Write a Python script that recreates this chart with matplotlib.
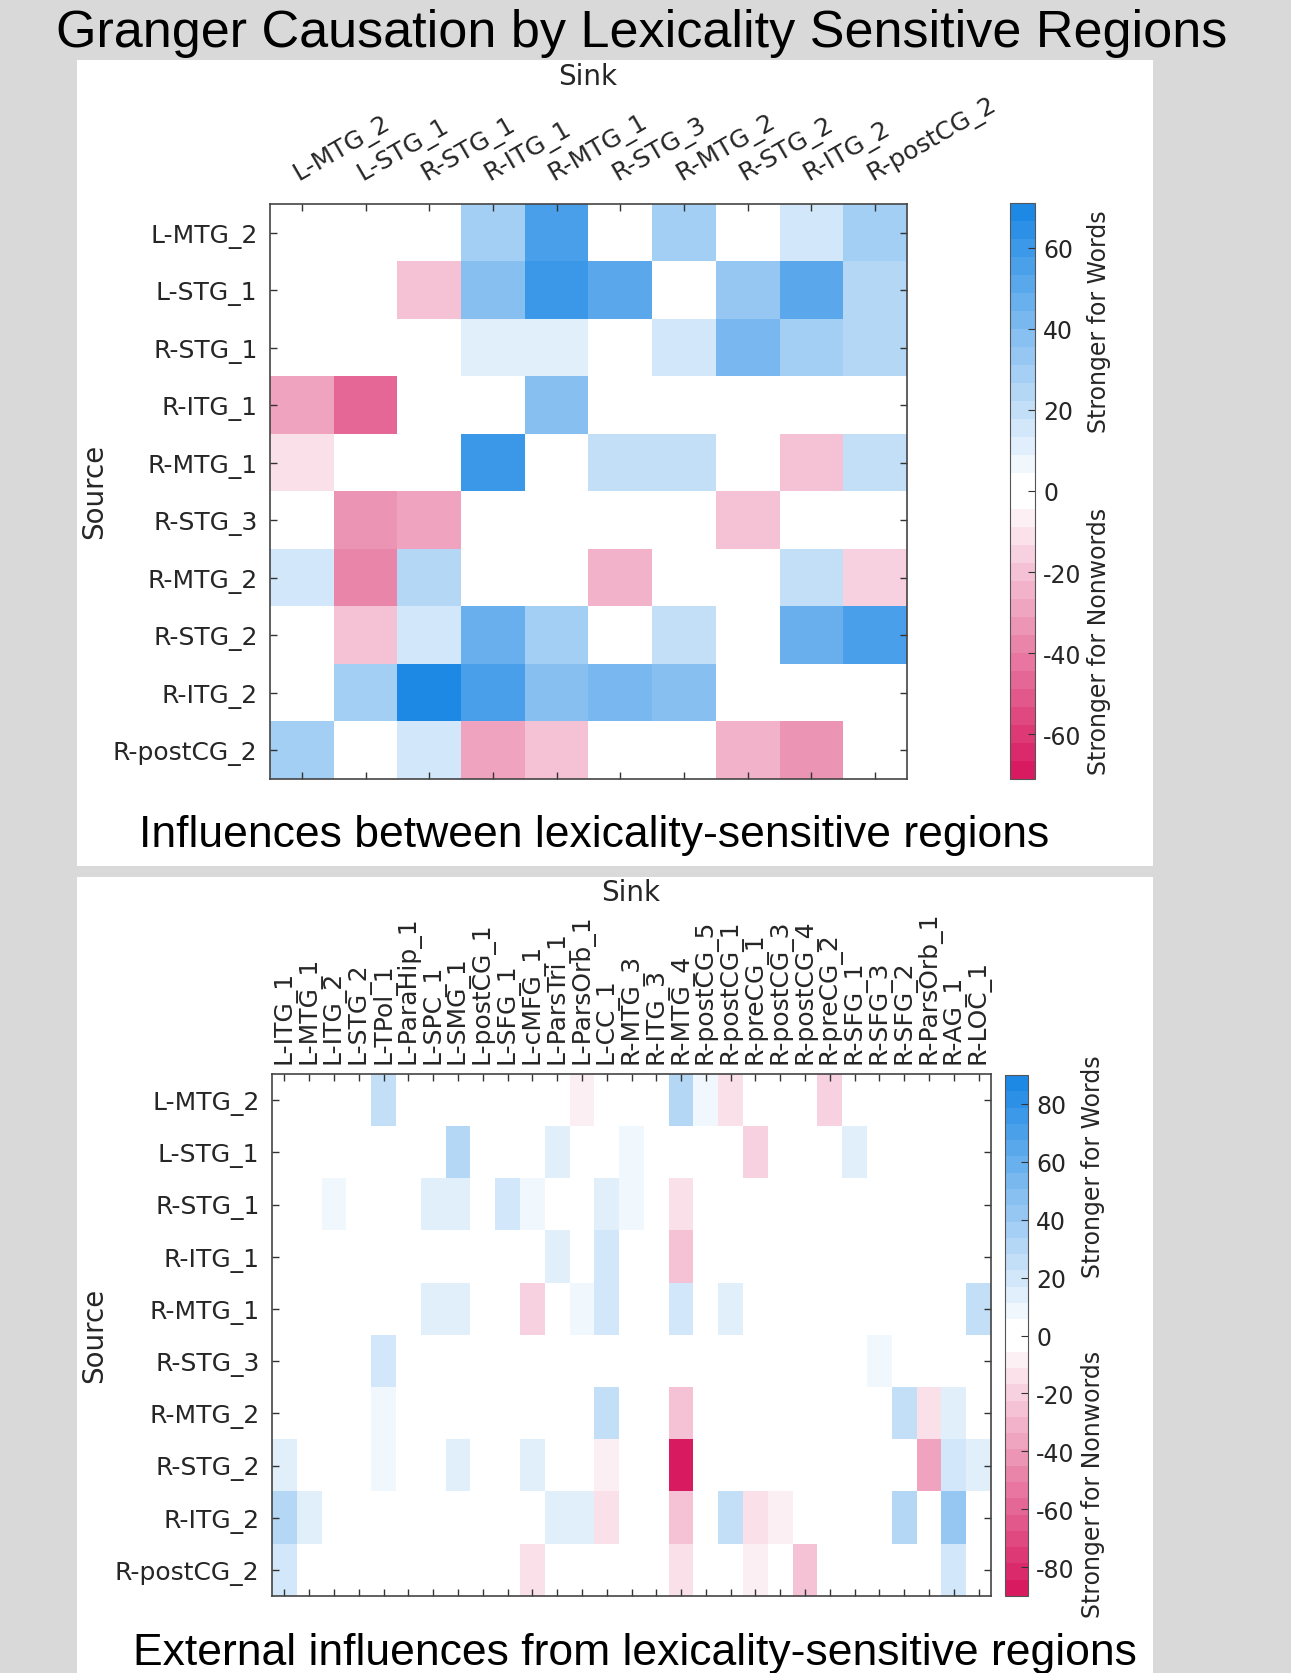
import numpy as np
import matplotlib
matplotlib.use("Agg")
import matplotlib.pyplot as plt
from matplotlib.colors import ListedColormap, Normalize
from matplotlib.patches import Rectangle
from matplotlib.transforms import ScaledTranslation

plt.rcParams["axes.unicode_minus"] = False

# ---------------- data ----------------
sources = ["L-MTG_2", "L-STG_1", "R-STG_1", "R-ITG_1", "R-MTG_1",
           "R-STG_3", "R-MTG_2", "R-STG_2", "R-ITG_2", "R-postCG_2"]

# influences between lexicality-sensitive regions (rows = source, cols = sink)
inner_sinks = sources
inner_vals = [
    [0, 0, 0, 29, 56, 0, 29, 0, 16, 29],
    [0, 0, -20, 38, 60, 51, 0, 33, 51, 24],
    [0, 0, 0, 11, 11, 0, 16, 42, 29, 24],
    [-29, -47, 0, 0, 38, 0, 0, 0, 0, 0],
    [-11, 0, 0, 60, 0, 20, 20, 0, -20, 20],
    [0, -33, -29, 0, 0, 0, 0, -20, 0, 0],
    [16, -38, 24, 0, 0, -24, 0, 0, 20, -16],
    [0, -20, 16, 47, 29, 0, 20, 0, 47, 56],
    [0, 29, 70, 56, 38, 42, 38, 0, 0, 0],
    [29, 0, 16, -29, -20, 0, 0, -24, -33, 0],
]
inner_lim = 71

# external influences (rows = source, cols = sink)
outer_sinks = ["L-ITG_1", "L-MTG_1", "L-ITG_2", "L-STG_2", "L-TPol_1", "L-ParaHip_1",
               "L-SPC_1", "L-SMG_1", "L-postCG_1", "L-SFG_1", "L-cMFG_1", "L-ParsTri_1",
               "L-ParsOrb_1", "L-CC_1", "R-MTG_3", "R-ITG_3", "R-MTG_4", "R-postCG_5",
               "R-postCG_1", "R-preCG_1", "R-postCG_3", "R-postCG_4", "R-preCG_2",
               "R-SFG_1", "R-SFG_3", "R-SFG_2", "R-ParsOrb_1", "R-AG_1", "R-LOC_1"]
outer_vals = [
    [0, 0, 0, 0, 25, 0, 0, 0, 0, 0, 0, 0, -8, 0, 0, 0, 31, 8, -14, 0, 0, 0, -20, 0, 0, 0, 0, 0, 0],
    [0, 0, 0, 0, 0, 0, 0, 31, 0, 0, 0, 14, 0, 0, 8, 0, 0, 0, 0, -20, 0, 0, 0, 14, 0, 0, 0, 0, 0],
    [0, 0, 8, 0, 0, 0, 14, 14, 0, 20, 8, 0, 0, 14, 8, 0, -14, 0, 0, 0, 0, 0, 0, 0, 0, 0, 0, 0, 0],
    [0, 0, 0, 0, 0, 0, 0, 0, 0, 0, 0, 14, 0, 20, 0, 0, -25, 0, 0, 0, 0, 0, 0, 0, 0, 0, 0, 0, 0],
    [0, 0, 0, 0, 0, 0, 14, 14, 0, 0, -20, 0, 8, 20, 0, 0, 20, 0, 14, 0, 0, 0, 0, 0, 0, 0, 0, 0, 25],
    [0, 0, 0, 0, 20, 0, 0, 0, 0, 0, 0, 0, 0, 0, 0, 0, 0, 0, 0, 0, 0, 0, 0, 0, 8, 0, 0, 0, 0],
    [0, 0, 0, 0, 8, 0, 0, 0, 0, 0, 0, 0, 0, 25, 0, 0, -25, 0, 0, 0, 0, 0, 0, 0, 0, 25, -14, 14, 0],
    [14, 0, 0, 0, 8, 0, 0, 14, 0, 0, 14, 0, 0, -8, 0, 0, -90, 0, 0, 0, 0, 0, 0, 0, 0, 0, -37, 20, 14],
    [31, 14, 0, 0, 0, 0, 0, 0, 0, 0, 0, 14, 14, -14, 0, 0, -25, 0, 25, -14, -8, 0, 0, 0, 0, 31, 0, 42, 0],
    [20, 0, 0, 0, 0, 0, 0, 0, 0, 0, -14, 0, 0, 0, 0, 0, -14, 0, 0, -8, 0, -25, 0, 0, 0, 0, 0, 20, 0],
]
outer_lim = 90

inner_ticks = [-60, -40, -20, 0, 20, 40, 60]
outer_ticks = [-80, -60, -40, -20, 0, 20, 40, 60, 80]

# ---------------- colormap: pink -> white -> blue, 32 steps ----------------
pink = np.array([216, 27, 96]) / 255
blue = np.array([30, 136, 229]) / 255
low = [(1 - t) * np.ones(3) + t * pink for t in np.arange(15, -1, -1) / 15]
high = [(1 - t) * np.ones(3) + t * blue for t in np.arange(0, 16) / 15]
cmap = ListedColormap(low + high)

W, H = 1291, 1674
fig = plt.figure(figsize=(W / 100, H / 100), dpi=100, facecolor="#d9d9d9")


def box(x0, y0, x1, y1):
    # pixel box (top-left origin) -> figure fraction rect
    return [x0 / W, 1 - y1 / H, (x1 - x0) / W, (y1 - y0) / H]


def fx(x):
    return x / W


def fy(y):
    return 1 - y / H


# white panels behind everything
for y0, y1 in [(61, 867), (878, 1674)]:
    fig.patches.append(Rectangle((fx(77), fy(y1)), (1153 - 77) / W, (y1 - y0) / H,
                                 transform=fig.transFigure, facecolor="white",
                                 edgecolor="none", zorder=-10))

txt = "#262626"


def heatmap(ax_box, cb_box, vals, sinks, lim, ticks, rot):
    ax = fig.add_axes(box(*ax_box))
    im = ax.imshow(np.array(vals, dtype=float), cmap=cmap,
                   norm=Normalize(-lim, lim), aspect="auto",
                   interpolation="nearest")
    ax.set_xticks(range(len(sinks)))
    ax.set_yticks(range(len(sources)))
    ax.set_yticklabels(sources, fontsize=18, color=txt)
    if rot == 30:
        ax.set_xticklabels(sinks, fontsize=18, color=txt, rotation=30,
                           ha="left", va="bottom", rotation_mode="anchor")
        off = ScaledTranslation(-10 / 100, 0, fig.dpi_scale_trans)
        for lab in ax.get_xticklabels():
            lab.set_transform(lab.get_transform() + off)
    else:
        ax.set_xticklabels(sinks, fontsize=18, color=txt, rotation=90,
                           ha="center", va="bottom")
    ax.tick_params(direction="in", top=True, bottom=True, left=True, right=True,
                   labeltop=True, labelbottom=False, length=5, width=1,
                   color="#333333", pad=8 if rot == 90 else 14)
    ax.tick_params(axis="y", pad=9)
    for s in ax.spines.values():
        s.set_color("#444444")
        s.set_linewidth(1.2)

    cax = fig.add_axes(box(*cb_box))
    cb = fig.colorbar(im, cax=cax, ticks=ticks)
    cb.outline.set_edgecolor("#555555")
    cax.tick_params(direction="in", length=5, labelsize=17, labelcolor=txt,
                    color="#333333", pad=6)
    return ax


heatmap((270, 205, 907, 780), (1010, 204, 1035, 780),
        inner_vals, inner_sinks, inner_lim, inner_ticks, 30)
heatmap((272, 1075, 991, 1597), (1005, 1076, 1028, 1597),
        outer_vals, outer_sinks, outer_lim, outer_ticks, 90)

# titles and labels
fig.text(fx(642), fy(47), "Granger Causation by Lexicality Sensitive Regions",
         fontsize=37.5, family="Liberation Sans", ha="center", va="baseline")
fig.text(fx(594), fy(847), "Influences between lexicality-sensitive regions",
         fontsize=32, family="Liberation Sans", ha="center", va="baseline")
fig.text(fx(635), fy(1665), "External influences from lexicality-sensitive regions",
         fontsize=32, family="Liberation Sans", ha="center", va="baseline")

for x, y in [(588, 77), (631, 893)]:
    fig.text(fx(x), fy(y), "Sink", fontsize=20, color=txt, ha="center", va="center")
for y in [491, 1335]:
    fig.text(fx(94), fy(y), "Source", fontsize=20, color=txt, rotation=90,
             ha="center", va="center")

for x, yw, yn in [(1099, 322, 641), (1093, 1167, 1484)]:
    fig.text(fx(x), fy(yw), "Stronger for Words", fontsize=17, color=txt,
             rotation=90, ha="center", va="center")
    fig.text(fx(x), fy(yn), "Stronger for Nonwords", fontsize=17, color=txt,
             rotation=90, ha="center", va="center")

fig.savefig("out.png", dpi=100, facecolor=fig.get_facecolor())
